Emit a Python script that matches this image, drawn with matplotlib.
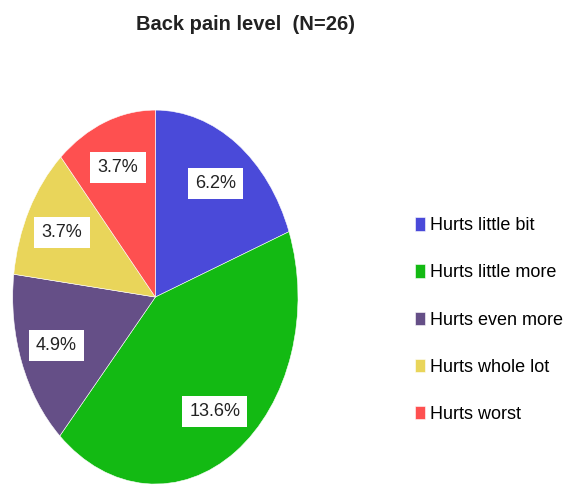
import matplotlib
matplotlib.use("Agg")
import matplotlib.pyplot as plt

categories = ["Hurts little bit", "Hurts little more", "Hurts even more", "Hurts whole lot", "Hurts worst"]
values = [6.2, 13.6, 4.9, 3.7, 3.7]
value_labels = ["6.2%", "13.6%", "4.9%", "3.7%", "3.7%"]
colors = ["#4A4AD9", "#13BA13", "#654F87", "#E9D55A", "#FE5050"]
title = "Back pain level  (N=26)"

FONT = ["Liberation Sans", "DejaVu Sans"]
plt.rcParams["font.family"] = FONT

fig = plt.figure(figsize=(5.72, 4.86), dpi=100)
ax = fig.add_axes([0.0222, 0.004, 0.4988, 0.7695])
wedges, texts = ax.pie(values, labels=value_labels, colors=colors, startangle=90,
                       counterclock=False, labeldistance=0.74,
                       wedgeprops=dict(edgecolor="white", linewidth=0.4),
                       textprops=dict(fontsize=13, color="#222222", ha="center", va="center"))
for t in texts:
    t.set_horizontalalignment("center")
    t.set_bbox(dict(boxstyle="square,pad=0.4", facecolor="white", edgecolor="none"))
ax.set_aspect("auto")
ax.set_xlim(-1, 1)
ax.set_ylim(-1, 1)

fig.text(0.43, 0.949, title, ha="center", va="center", fontsize=14.5, fontweight="bold", color="#222222")

fig.legend(wedges, categories, loc="upper left", bbox_to_anchor=(0.725, 0.553),
           frameon=False, fontsize=13, handlelength=0.55, handleheight=0.75,
           handletextpad=0.3, labelspacing=1.67, borderaxespad=0, borderpad=0)

fig.savefig("out.png", dpi=100)
